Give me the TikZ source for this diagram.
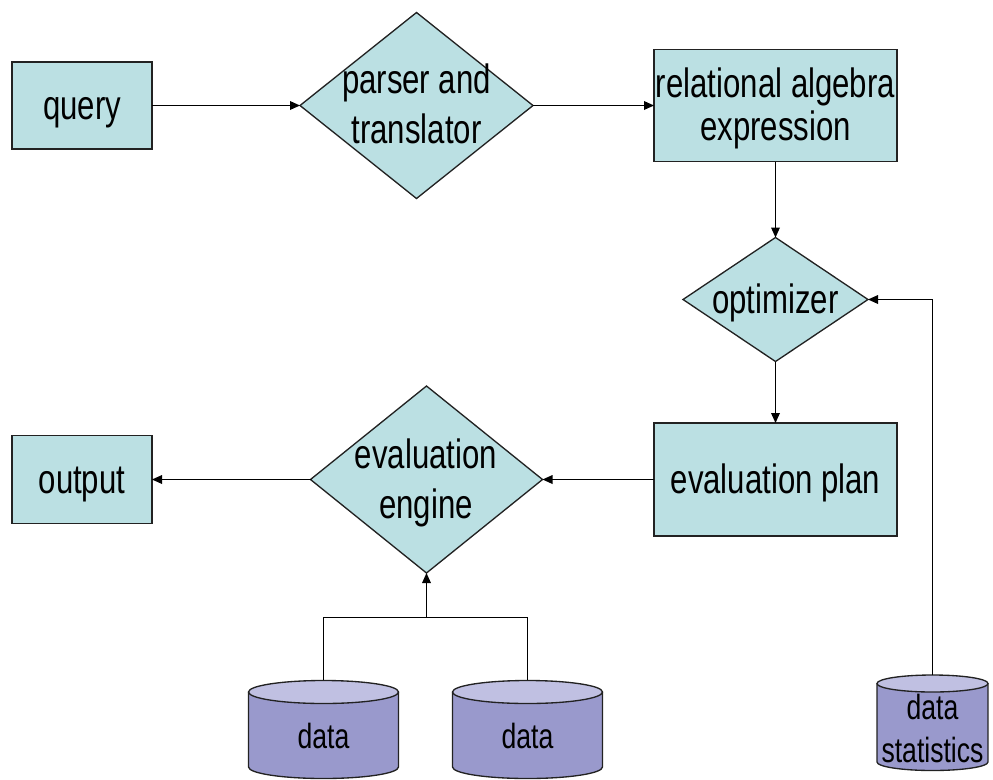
\documentclass[tikz,border=0pt]{standalone}
\usepackage{fontspec}
\setmainfont{Liberation Sans}[FakeStretch=0.76]
\usetikzlibrary{shapes.geometric,arrows.meta}
\definecolor{boxfill}{RGB}{187,224,227}
\definecolor{cylside}{RGB}{153,153,204}
\definecolor{cyltop}{RGB}{192,192,226}
\definecolor{edgecol}{RGB}{34,34,34}

% drum-shaped store: centre x, top rim y, bottom rim y, x radius, y radius
\newcommand\drumshape[5]{%
  \fill[cylside] (#1-#4,#2) rectangle (#1+#4,#3);
  \fill[cylside] (#1,#3) ellipse [x radius=#4, y radius=#5];
  \draw[edgecol, line width=1pt] (#1-#4,#2) -- (#1-#4,#3)
    arc[start angle=180, end angle=0, x radius=#4, y radius=#5] -- (#1+#4,#2);
  \draw[edgecol, line width=1pt, fill=cyltop] (#1,#2) ellipse [x radius=#4, y radius=#5];
}

\begin{document}
\begin{tikzpicture}[x=0.75pt,y=-0.75pt,
  procbox/.style={draw=edgecol, line width=1pt, fill=boxfill, rectangle,
    inner sep=0pt, outer sep=0pt, align=center,
    font=\fontsize{30.75pt}{32.25pt}\selectfont},
  oneline/.style={text height=26pt, text depth=4.6pt},
  decision/.style={draw=edgecol, line width=1pt, fill=boxfill, diamond,
    inner sep=0pt, outer sep=0pt},
  dlabel/.style={align=center, inner sep=0pt,
    font=\fontsize{30.75pt}{37.5pt}\selectfont},
  flow/.style={draw=black, line width=0.9pt, -{Triangle[length=7.5pt,width=6.5pt]}},
  link/.style={draw=black, line width=0.9pt},
  cylspot/.style={rectangle, inner sep=0pt, outer sep=0pt},
  cyllabel/.style={align=center, inner sep=0pt,
    font=\fontsize{26.25pt}{32.25pt}\selectfont}]

\useasboundingbox (0,0) rectangle (993,779);

% process boxes
\node[procbox, oneline, minimum width=105pt, minimum height=65.25pt] (query) at (82,105.5) {query};
\node[procbox, minimum width=182.25pt, minimum height=84pt] (relalg) at (775.5,105.5) {};
\node[align=center, inner sep=0pt, font=\fontsize{30.75pt}{32.25pt}\selectfont] (relalglbl) at (775.5,108) {relational algebra\\expression};
\node[procbox, oneline, minimum width=182.25pt, minimum height=84.75pt] (plan) at (775.5,479.5) {evaluation plan};
\node[procbox, oneline, minimum width=105pt, minimum height=66pt] (output) at (82,479.5) {output};

% decisions
\node[decision, minimum width=174.75pt, minimum height=139.5pt] (parser) at (416.5,105.5) {};
\node[dlabel] (parserlbl) at (416.5,103.5) {parser and\\translator};
\node[decision, minimum width=138.75pt, minimum height=93pt] (optim) at (775.5,299.5) {};
\node[dlabel, oneline] (optimlbl) at (775.5,299) {optimizer};
\node[decision, minimum width=174pt, minimum height=140.25pt] (engine) at (426.5,479.5) {};
\node[dlabel] (enginelbl) at (426,483) {evaluation\\engine};

% data stores
\drumshape{323.5}{692}{767}{75}{11.5}
\drumshape{527.5}{692}{767}{75}{11.5}
\drumshape{932.5}{683.5}{762}{55.5}{8.5}
\node[cylspot, minimum width=112.5pt, minimum height=73.5pt] (data1) at (323.5,729) {};
\node[cylspot, minimum width=112.5pt, minimum height=73.5pt] (data2) at (527.5,729) {};
\node[cylspot, minimum width=83.25pt, minimum height=71.25pt] (stats) at (932.5,722.5) {};
\node[cyllabel] (data1lbl) at (323.5,736) {data};
\node[cyllabel] (data2lbl) at (527.5,736) {data};
\node[cyllabel] (statslbl) at (932.5,728) {data\\statistics};

% connectors
\draw[flow] (query.east) -- (parser.west);
\draw[flow] (parser.east) -- (relalg.west);
\draw[flow] (relalg.south) -- (optim.north);
\draw[flow] (optim.south) -- (plan.north);
\draw[flow] (plan.west) -- (engine.east);
\draw[flow] (engine.west) -- (output.east);
\coordinate (join) at (426.5,617.5);
\draw[link] (data1.north) |- (join) -| (data2.north);
\draw[flow] (join) -- (engine.south);
\draw[flow] (stats.north) |- (optim.east);
\end{tikzpicture}
\end{document}
